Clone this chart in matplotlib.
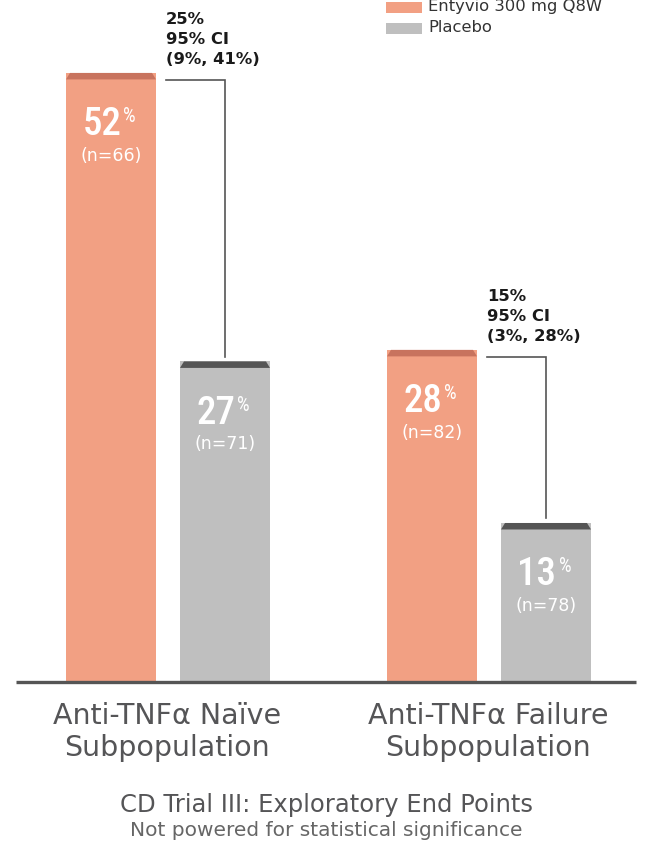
import matplotlib
matplotlib.use("Agg")
import matplotlib.pyplot as plt
from matplotlib.patches import Polygon, Rectangle

# ---------------- data ----------------
categories = ["Anti-TNFα Naïve\nSubpopulation", "Anti-TNFα Failure\nSubpopulation"]
series_names = ["Entyvio 300 mg Q8W", "Placebo"]
entyvio = [52, 28]
placebo = [27, 13]
entyvio_n = [66, 82]
placebo_n = [71, 78]
diff_labels = ["25%\n95% CI\n(9%, 41%)", "15%\n95% CI\n(3%, 28%)"]
title = "CD Trial III: Exploratory End Points"
subtitle = "Not powered for statistical significance"

# ---------------- style ----------------
ORANGE = "#F2A083"
ORANGE_CAP = "#C8735E"
GREY = "#BFBFBF"
GREY_CAP = "#555555"
DARK = "#555557"
W, H = 650, 842
PX_PER_PCT = 11.54
ZERO_PX = 673          # pixel row (from top) of value 0
BASE_PX = 682          # baseline row

def py(p):
    """pixel row from top -> data y"""
    return (ZERO_PX - p) / PX_PER_PCT

GROUP_PX = 321.0
def px(p):
    return (p - 167.0) / GROUP_PX

fig = plt.figure(figsize=(W / 100, H / 100), dpi=100)
ax = fig.add_axes([0, 0, 1, 1])
ax.set_xlim(px(0), px(W))
ax.set_ylim(py(H), py(0))
ax.axis("off")

bar_w = 90 / GROUP_PX
offs = [-56 / GROUP_PX, 58 / GROUP_PX]
cap_h = 6.5 / PX_PER_PCT
cap_in = 4 / GROUP_PX
base_y = py(BASE_PX)

big_font = ["Roboto Condensed", "Open Sans Condensed", "Roboto", "DejaVu Sans"]
main_font = ["DejaVu Sans"]

def draw_bar(xc, val, color, capcolor, n):
    x0 = xc - bar_w / 2
    ax.add_patch(Rectangle((x0, base_y), bar_w, val - base_y, facecolor=color,
                           edgecolor="none", zorder=2))
    ax.add_patch(Polygon([(x0, val - cap_h), (x0 + bar_w, val - cap_h),
                          (x0 + bar_w - cap_in, val), (x0 + cap_in, val)],
                         closed=True, facecolor=capcolor, edgecolor="none", zorder=3))
    t = ax.annotate(f"{val}", xy=(xc, val), xytext=(-9, -52), textcoords="offset pixels",
                    ha="center", va="center", fontsize=28, color="white",
                    family=big_font, fontweight="medium", zorder=4)
    ax.annotate("%", xy=(1.0, 1.0), xycoords=t, xytext=(2, -1), textcoords="offset pixels",
                ha="left", va="top", fontsize=14.5, color="white", family=big_font,
                zorder=4)
    ax.annotate(f"(n={n})", xy=(xc, val), xytext=(0, -83), textcoords="offset pixels",
                ha="center", va="center", fontsize=12.5, color="white",
                family=main_font, zorder=4)

for i in range(len(categories)):
    xo = i + offs[0]
    xp = i + offs[1]
    draw_bar(xo, entyvio[i], ORANGE, ORANGE_CAP, entyvio_n[i])
    draw_bar(xp, placebo[i], GREY, GREY_CAP, placebo_n[i])
    # bracket
    xl = xo + bar_w / 2 + 10 / GROUP_PX
    yh = entyvio[i] - 0.6
    yl = placebo[i] + 0.4
    ax.plot([xl, xp, xp], [yh, yh, yl], color="#555555", lw=1.2,
            solid_joinstyle="miter", zorder=1)
    ax.annotate(diff_labels[i], xy=(xl, yh), xytext=(0, 13), textcoords="offset pixels",
                ha="left", va="bottom", fontsize=11.8, color="#1a1a1a",
                family=main_font, linespacing=1.42, fontweight="bold")
    ax.text(i, py(732), categories[i], ha="center", va="center", fontsize=20.5,
            color=DARK, family=main_font, linespacing=1.22)

# baseline
ax.plot([px(16), px(636)], [base_y, base_y], color="#555555", lw=2.4,
        solid_capstyle="butt", zorder=5)

# legend
leg_colors = [ORANGE, GREY]
for j, name in enumerate(series_names):
    yc = py(7 + 21 * j)
    ax.add_patch(Rectangle((px(386), yc - 5.5 / PX_PER_PCT), 36 / GROUP_PX, 11 / PX_PER_PCT,
                           facecolor=leg_colors[j], edgecolor="none"))
    ax.text(px(428), yc, name, ha="left", va="center", fontsize=11.8,
            color="#333333", family=main_font)

# titles
ax.text(px(326), py(805), title, ha="center", va="center", fontsize=17.5,
        color=DARK, family=main_font)
ax.text(px(326), py(831), subtitle, ha="center", va="center", fontsize=14.5,
        color="#666666", family=main_font)

fig.savefig("out.png", dpi=100)
